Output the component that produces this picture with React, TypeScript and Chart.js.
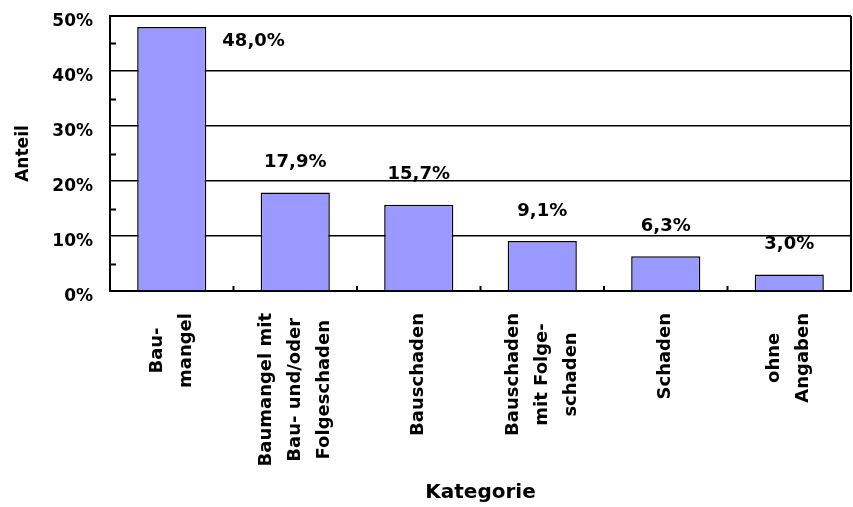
import React, { useEffect, useRef } from "react";
import { Chart, registerables } from "chart.js";

Chart.register(...registerables);

const categories: string[][] = [
  ["Bau-", "mangel"],
  ["Baumangel mit", "Bau- und/oder", "Folgeschaden"],
  ["Bauschaden"],
  ["Bauschaden", "mit Folge-", "schaden"],
  ["Schaden"],
  ["ohne", "Angaben"],
];
const values: number[] = [48.0, 17.9, 15.7, 9.1, 6.3, 3.0];
const yMin = 0;
const yMax = 50;
const yStep = 10;
const yTitle = "Anteil";
const xTitle = "Kategorie";

const FONT = "'DejaVu Sans', 'Liberation Sans', Arial, sans-serif";

const fmt = (v: number) => v.toFixed(1).replace(".", ",") + "%";

const customPlugin = {
  id: "custom",
  afterDatasetsDraw(chart: any) {
    const { ctx, chartArea } = chart;
    const meta = chart.getDatasetMeta(0);
    ctx.save();
    ctx.fillStyle = "#000";
    ctx.font = `bold 18px ${FONT}`;
    meta.data.forEach((bar: any, i: number) => {
      const txt = fmt(values[i]);
      const above = bar.y - 30;
      if (above - 10 < chartArea.top) {
        ctx.textAlign = "left";
        ctx.textBaseline = "middle";
        ctx.fillText(txt, bar.x + bar.width / 2 + 16, bar.y + 14);
      } else {
        ctx.textAlign = "center";
        ctx.textBaseline = "middle";
        ctx.fillText(txt, bar.x, above);
      }
    });
    ctx.restore();
  },
  afterDraw(chart: any) {
    const { ctx, chartArea } = chart;
    const xs = chart.scales.x;
    const ys = chart.scales.y;
    ctx.save();
    ctx.strokeStyle = "#000";
    ctx.lineWidth = 2;
    ctx.beginPath();
    ctx.moveTo(chartArea.right, chartArea.top);
    ctx.lineTo(chartArea.right, chartArea.bottom);
    ctx.stroke();
    ctx.beginPath();
    ctx.moveTo(chartArea.left, chartArea.top);
    ctx.lineTo(chartArea.right, chartArea.top);
    ctx.stroke();
    for (let v = yMin + yStep / 2; v < yMax; v += yStep) {
      const py = Math.round(ys.getPixelForValue(v)) + 0.5;
      ctx.beginPath();
      ctx.moveTo(chartArea.left, py);
      ctx.lineTo(chartArea.left + 6, py);
      ctx.stroke();
    }
    for (let i = 0; i < categories.length - 1; i++) {
      const px = (xs.getPixelForValue(i) + xs.getPixelForValue(i + 1)) / 2;
      ctx.beginPath();
      ctx.moveTo(px, chartArea.bottom);
      ctx.lineTo(px, chartArea.bottom - 5);
      ctx.stroke();
    }
    ctx.fillStyle = "#000";
    ctx.font = `bold 18px ${FONT}`;
    ctx.textAlign = "center";
    ctx.textBaseline = "middle";
    const lineGap = 29;
    const topY = chartArea.bottom + 22;
    categories.forEach((lines, i) => {
      const cx = xs.getPixelForValue(i);
      const w = Math.max(...lines.map((l) => ctx.measureText(l).width));
      const cy = topY + w / 2;
      lines.forEach((line, j) => {
        const lx = cx + (j - (lines.length - 1) / 2) * lineGap;
        ctx.save();
        ctx.translate(lx, cy);
        ctx.rotate(-Math.PI / 2);
        ctx.fillText(line, 0, 0);
        ctx.restore();
      });
    });
    ctx.restore();
  },
};

export default function App() {
  const canvasRef = useRef<HTMLCanvasElement | null>(null);

  useEffect(() => {
    if (!canvasRef.current) return;
    const chart = new Chart(canvasRef.current, {
      type: "bar",
      data: {
        labels: categories.map((c) => c.join(" ")),
        datasets: [
          {
            data: values,
            backgroundColor: "#9999ff",
            borderColor: "#000",
            borderWidth: 1.5,
            barPercentage: 0.56,
            categoryPercentage: 1,
          },
        ],
      },
      options: {
        animation: false,
        responsive: true,
        maintainAspectRatio: false,
        layout: { padding: { left: 0, right: 2, top: 16, bottom: 0 } },
        plugins: {
          legend: { display: false },
          tooltip: { enabled: false },
        },
        scales: {
          x: {
            grid: { display: false },
            border: { display: true, color: "#000", width: 2 },
            ticks: { display: false },
            title: {
              display: true,
              text: xTitle,
              color: "#000",
              font: { family: FONT, size: 20, weight: "bold" },
              padding: { top: 0, bottom: 2 },
            },
            afterFit: (scale: any) => {
              scale.height = 216;
              scale.paddingLeft = 0;
              scale.paddingRight = 0;
            },
          },
          y: {
            min: yMin,
            max: yMax,
            grid: { color: "#000", lineWidth: 1.5, drawTicks: false },
            border: { display: true, color: "#000", width: 2 },
            ticks: {
              stepSize: yStep,
              color: "#000",
              padding: 17,
              labelOffset: 6,
              font: { family: FONT, size: 17, weight: "bold" },
              callback: (v: any) => v + "%",
            },
            title: {
              display: true,
              text: yTitle,
              color: "#000",
              font: { family: FONT, size: 17, weight: "bold" },
              padding: { top: 13, bottom: 0 },
            },
            afterFit: (scale: any) => {
              scale.width = 110;
              scale.paddingTop = 0;
              scale.paddingBottom = 0;
            },
          },
        },
      },
      plugins: [customPlugin],
    });
    return () => chart.destroy();
  }, []);

  return (
    <div style={{ position: "absolute", left: 0, top: 0, width: 853, height: 507, background: "#fff" }}>
      <canvas ref={canvasRef} />
    </div>
  );
}
